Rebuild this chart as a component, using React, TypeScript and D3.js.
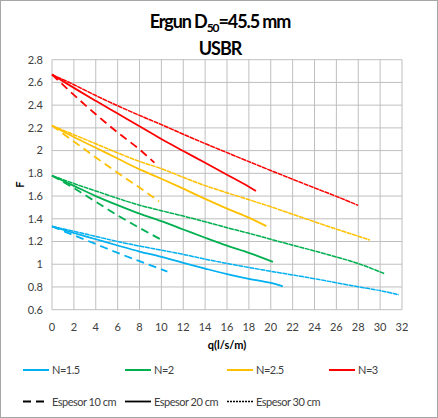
import React from 'react';
import * as d3 from 'd3';

type Pt = [number, number];

// q (l/s/m) vs F
// N=1.5
const n15_e10: Pt[] = [[0, 1.333], [2, 1.255], [4, 1.178], [6, 1.1], [8, 1.027], [10.55, 0.935]];
const n15_e20: Pt[] = [[0, 1.333], [2, 1.275], [4, 1.22], [6, 1.165], [8, 1.112], [10, 1.065], [12, 1.012], [14, 0.962], [16, 0.914], [18, 0.872], [20, 0.835], [21.1, 0.806]];
const n15_e30: Pt[] = [[0, 1.333], [2, 1.29], [4, 1.245], [6, 1.2], [8, 1.16], [10, 1.124], [12, 1.087], [14, 1.045], [16, 1.007], [18, 0.972], [20, 0.938], [22, 0.906], [24, 0.873], [26, 0.837], [28, 0.801], [30, 0.768], [31.7, 0.732]];
// N=2
const n2_e10: Pt[] = [[0, 1.78], [2, 1.67], [4, 1.55], [6, 1.43], [8, 1.32], [10.18, 1.206]];
const n2_e20: Pt[] = [[0, 1.78], [2, 1.69], [4, 1.6], [6, 1.52], [8, 1.445], [10, 1.379], [12, 1.306], [14, 1.233], [16, 1.163], [18, 1.1], [20.2, 1.021]];
const n2_e30: Pt[] = [[0, 1.78], [2, 1.71], [4, 1.645], [6, 1.58], [8, 1.52], [10, 1.471], [12, 1.424], [14, 1.374], [16, 1.322], [18, 1.272], [20, 1.22], [22, 1.168], [24, 1.117], [26, 1.064], [28, 1.006], [30.37, 0.918]];
// N=2.5
const n25_e10: Pt[] = [[0, 2.22], [2, 2.08], [4, 1.94], [6, 1.805], [8, 1.675], [9.78, 1.553]];
const n25_e20: Pt[] = [[0, 2.22], [2, 2.12], [4, 2.025], [6, 1.93], [8, 1.835], [10, 1.752], [12, 1.665], [14, 1.575], [16, 1.49], [18, 1.41], [19.6, 1.335]];
const n25_e30: Pt[] = [[0, 2.22], [2, 2.14], [4, 2.06], [6, 1.98], [8, 1.905], [10, 1.841], [12, 1.765], [14, 1.692], [16, 1.629], [18, 1.568], [20, 1.506], [22, 1.44], [24, 1.374], [26, 1.309], [28, 1.247], [29.07, 1.212]];
// N=3
const n3_e10: Pt[] = [[0, 2.67], [2, 2.49], [4, 2.32], [6, 2.16], [8, 2.01], [9.36, 1.894]];
const n3_e20: Pt[] = [[0, 2.67], [2, 2.552], [4, 2.438], [6, 2.326], [8, 2.214], [10, 2.102], [12, 1.997], [14, 1.893], [16, 1.788], [18, 1.682], [18.65, 1.645]];
const n3_e30: Pt[] = [[0, 2.67], [2, 2.58], [4, 2.485], [6, 2.395], [8, 2.31], [10, 2.229], [12, 2.144], [14, 2.062], [16, 1.982], [18, 1.903], [20, 1.825], [22, 1.748], [24, 1.672], [26, 1.597], [28, 1.518]];

const seriesNames = ['N=1.5', 'N=2', 'N=2.5', 'N=3'];
const seriesColors = ['#00B0F0', '#00B050', '#FFC000', '#FF0000'];
const seriesLines = [
  [n15_e10, n15_e20, n15_e30],
  [n2_e10, n2_e20, n2_e30],
  [n25_e10, n25_e20, n25_e30],
  [n3_e10, n3_e20, n3_e30],
];
const thicknessNames = ['Espesor 10 cm', 'Espesor 20 cm', 'Espesor 30 cm'];

const xTicks = [0, 2, 4, 6, 8, 10, 12, 14, 16, 18, 20, 22, 24, 26, 28, 30, 32];
const yTicks = [0.6, 0.8, 1, 1.2, 1.4, 1.6, 1.8, 2, 2.2, 2.4, 2.6, 2.8];

const W = 438;
const H = 418;
const margin = { left: 52, right: 36, top: 59.7, bottom: 108.3 };
const font = 'Lato, "Open Sans", sans-serif';

// line styles per thickness (10 cm dashed, 20 cm solid, 30 cm fine dots)
const dashes = ['8,5', null, '5,0.6'];
const legendDashes = ['8,5', null, '2,1'];
const widths = [1.8, 1.8, 1.5];

export default function App() {
  const x = d3.scaleLinear().domain([0, 32]).range([margin.left, W - margin.right]);
  const y = d3.scaleLinear().domain([0.6, 2.8]).range([H - margin.bottom, margin.top]);

  const line = d3
    .line<Pt>()
    .x(d => x(d[0]))
    .y(d => y(d[1]))
    .curve(d3.curveMonotoneX);

  const fmt = (v: number) => String(+v.toFixed(1));

  const legendX = [23, 125, 227, 329];

  return (
    <svg
      width={W}
      height={H}
      style={{ position: 'absolute', left: 0, top: 0, background: '#fff' }}
      fontFamily={font}
    >
      <rect x={0.5} y={0.5} width={W - 1} height={H - 1} fill="#fff" stroke="#a6a6a6" />

      {/* title */}
      <text x={220} y={28} textAnchor="middle" fontSize={18} fontWeight="bold" letterSpacing={-1.1} fill="#000">
        <tspan>Ergun D</tspan>
        <tspan fontSize={12} dy={4}>50</tspan>
        <tspan dy={-4}>=45.5 mm</tspan>
      </text>
      <text x={220} y={55} textAnchor="middle" fontSize={18} fontWeight="bold" letterSpacing={-1.1} fill="#000">
        USBR
      </text>

      {/* grid */}
      {xTicks.map(t => (
        <line key={'gx' + t} x1={x(t)} x2={x(t)} y1={y(0.6)} y2={y(2.8)} stroke="#bfbfbf" strokeWidth={1} />
      ))}
      {yTicks.map(t => (
        <line key={'gy' + t} x1={x(0)} x2={x(32)} y1={y(t)} y2={y(t)} stroke="#bfbfbf" strokeWidth={1} />
      ))}

      {/* tick labels */}
      {yTicks.map(t => (
        <text key={'ty' + t} x={43} y={y(t)} dy="0.35em" textAnchor="end" fontSize={11} fill="#404040">
          {fmt(t)}
        </text>
      ))}
      {xTicks.map(t => (
        <text key={'tx' + t} x={x(t)} y={331} textAnchor="middle" fontSize={11} fill="#404040">
          {t}
        </text>
      ))}

      {/* axis titles */}
      <text x={x(16)} y={349} textAnchor="middle" fontSize={11} fontWeight="bold" fill="#000">
        q(l/s/m)
      </text>
      <text transform={`translate(24,${y(1.7)}) rotate(-90)`} textAnchor="middle" fontSize={11} fontWeight="bold" fill="#000">
        F
      </text>

      {/* curves */}
      {seriesLines.map((group, si) =>
        group.map((pts, ti) => (
          <path
            key={`c${si}-${ti}`}
            d={line(pts) || ''}
            fill="none"
            stroke={seriesColors[si]}
            strokeWidth={widths[ti]}
            strokeDasharray={dashes[ti] || undefined}
          />
        ))
      )}

      {/* legend: series */}
      {seriesNames.map((name, i) => (
        <g key={'ls' + i}>
          <line x1={legendX[i]} x2={legendX[i] + 26} y1={370} y2={370} stroke={seriesColors[i]} strokeWidth={2} />
          <text x={legendX[i] + 29} y={374} fontSize={11} fill="#404040" letterSpacing={-0.5}>
            {name}
          </text>
        </g>
      ))}
      {/* legend: thickness */}
      {thicknessNames.map((name, i) => (
        <g key={'lt' + i}>
          <line
            x1={legendX[i]}
            x2={legendX[i] + 26}
            y1={401.5}
            y2={401.5}
            stroke="#000"
            strokeWidth={widths[i]}
            strokeDasharray={legendDashes[i] || undefined}
          />
          <text x={legendX[i] + 29} y={405.5} fontSize={11} fill="#404040" letterSpacing={-0.5}>
            {name}
          </text>
        </g>
      ))}
    </svg>
  );
}
